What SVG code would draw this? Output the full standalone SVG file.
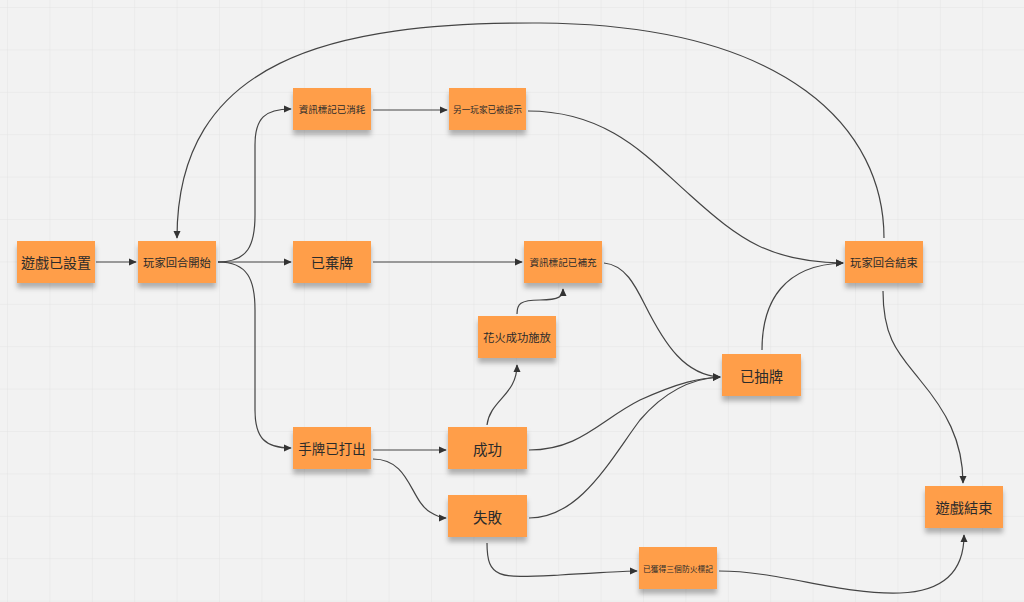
<svg xmlns="http://www.w3.org/2000/svg" width="1024" height="602" viewBox="0 0 1024 602">
<defs>
<pattern id="grid" x="7" y="7" width="42.4" height="42.4" patternUnits="userSpaceOnUse">
<path d="M0,0 L42.4,0 M0,0 L0,42.4" fill="none" stroke="#e3e3e3" stroke-width="1"/>
</pattern>
<filter id="sh" x="-20%" y="-20%" width="140%" height="160%">
<feDropShadow dx="0" dy="5" stdDeviation="2.5" flood-color="#000" flood-opacity="0.28"/>
</filter>
<marker id="ah" viewBox="0 0 10 10" refX="9" refY="5" markerWidth="8" markerHeight="8" markerUnits="userSpaceOnUse" orient="auto">
<path d="M0,0.5 L10,5 L0,9.5 Z" fill="#333"/>
</marker>
</defs>
<style>
.n rect{fill:#ff9e4a;filter:url(#sh)}
.n text{font-family:"Noto Sans CJK TC","Noto Sans CJK SC",sans-serif;fill:#2b2b2b;text-anchor:middle;dominant-baseline:central}
.c path{fill:none;stroke:#444;stroke-width:1.2;marker-end:url(#ah)}
</style>
<rect width="1024" height="602" fill="#f2f2f2"/>
<rect width="1024" height="602" fill="url(#grid)"/>
<g class="c" id="connectors">
<path d="M96,262 L136,262"/>
<path d="M218,262 C248,262 255,245 255,215 L255,145 C255,118 265,109 291,109"/>
<path d="M218,262 L291,262"/>
<path d="M218,262 C248,262 255,280 255,310 L255,410 C255,438 265,448 291,448"/>
<path d="M373,110 L447,110"/>
<path d="M528,111 C610,111 650,160 690,195 C740,240 770,262 843,263"/>
<path d="M373,262 L522,262"/>
<path d="M604,263 C625,265 635,285 645,305 C665,345 685,375 720,377"/>
<path d="M517,314 C517,304 520,300 540,300 C560,300 563,296 563,289"/>
<path d="M487,425 C490,400 517,395 517,365"/>
<path d="M529,450 C580,450 600,420 640,400 C680,382 700,378 720,377"/>
<path d="M529,518 C580,518 610,460 640,420 C670,385 700,378 720,377"/>
<path d="M373,450 L446,450"/>
<path d="M373,459 C410,459 410,500 430,512 C438,517 442,518 446,518"/>
<path d="M487,543 C487,580 500,578 560,575 C600,573 620,571 637,571"/>
<path d="M719,571 C780,571 840,595 900,593 C955,591 964,560 964,535"/>
<path d="M762,350 C762,300 785,265 843,263"/>
<path d="M883,291 C883,340 900,355 920,380 C945,410 963,440 963,483"/>
<path d="M884,238 C884,130 790,25 540,23 C330,22 177,60 177,238"/>
</g>
<g class="n" id="n1"><rect x="17" y="241" width="78" height="42"/><text x="56" y="262" font-size="14">遊戲已設置</text></g>
<g class="n" id="n2"><rect x="138" y="241" width="78" height="42"/><text x="177" y="262" font-size="11.3">玩家回合開始</text></g>
<g class="n" id="n3"><rect x="293" y="88" width="78" height="42"/><text x="332" y="109" font-size="9.5">資訊標記已消耗</text></g>
<g class="n" id="n4"><rect x="449" y="88" width="77" height="42"/><text x="487.5" y="109" font-size="8.6">另一玩家已被提示</text></g>
<g class="n" id="n5"><rect x="293" y="241" width="78" height="42"/><text x="332" y="262" font-size="14.2">已棄牌</text></g>
<g class="n" id="n6"><rect x="524" y="241" width="78" height="42"/><text x="563" y="262" font-size="9.6">資訊標記已補充</text></g>
<g class="n" id="n7"><rect x="478" y="316" width="78" height="42"/><text x="517" y="337" font-size="11.3">花火成功施放</text></g>
<g class="n" id="n8"><rect x="722" y="354" width="79" height="42"/><text x="761.5" y="375" font-size="14.4">已抽牌</text></g>
<g class="n" id="n9"><rect x="293" y="427" width="78" height="42"/><text x="332" y="448" font-size="13.5">手牌已打出</text></g>
<g class="n" id="n10"><rect x="448" y="427" width="79" height="42"/><text x="487.5" y="448" font-size="14.5">成功</text></g>
<g class="n" id="n11"><rect x="448" y="495" width="79" height="42"/><text x="487.5" y="516" font-size="14.5">失敗</text></g>
<g class="n" id="n12"><rect x="639" y="547" width="78" height="42"/><text x="678" y="568" font-size="7.8">已獲得三個防火標記</text></g>
<g class="n" id="n13"><rect x="845" y="241" width="78" height="42"/><text x="884" y="262" font-size="11.3">玩家回合結束</text></g>
<g class="n" id="n14"><rect x="925" y="486" width="78" height="42"/><text x="964" y="507" font-size="14.2">遊戲結束</text></g>
</svg>
